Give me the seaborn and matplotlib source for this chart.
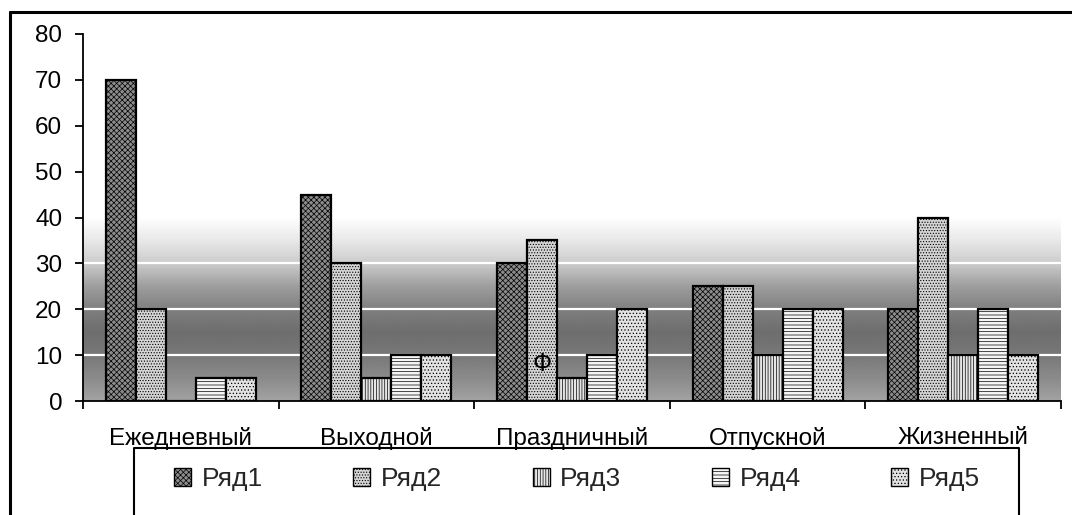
import numpy as np
import pandas as pd
import matplotlib
matplotlib.use("Agg")
import matplotlib.pyplot as plt
from matplotlib.patches import Patch
from matplotlib.lines import Line2D
import seaborn as sns

categories = ["Ежедневный", "Выходной", "Праздничный", "Отпускной", "Жизненный"]
series_names = ["Ряд1", "Ряд2", "Ряд3", "Ряд4", "Ряд5"]
ryad1 = [70, 45, 30, 25, 20]
ryad2 = [20, 30, 35, 25, 40]
ryad3 = [0, 5, 5, 10, 10]
ryad4 = [5, 10, 10, 20, 20]
ryad5 = [5, 10, 20, 20, 10]
y_ticks = [0, 10, 20, 30, 40, 50, 60, 70, 80]

sns.set_theme(style="white")
plt.rcParams["font.family"] = ["Liberation Sans", "DejaVu Sans"]
plt.rcParams["hatch.linewidth"] = 0.5

rows = []
for name, vals in zip(series_names, [ryad1, ryad2, ryad3, ryad4, ryad5]):
    for c, v in zip(categories, vals):
        rows.append({"cat": c, "series": name, "val": v})
df = pd.DataFrame(rows)

fig = plt.figure(figsize=(10.72, 5.15), dpi=100)
W, H = 1072, 515
ax = fig.add_axes([83 / W, 1 - 401 / H, (1061 - 83) / W, (401 - 34) / H])

# gradient background
stops_v = [0, 4, 10, 15, 20, 25, 30, 35, 40, 80]
stops_g = [0.64, 0.56, 0.47, 0.43, 0.50, 0.62, 0.80, 0.91, 1.0, 1.0]
yy = np.linspace(0, 80, 400)
gray = np.interp(yy, stops_v, stops_g)
img = np.repeat(gray[:, None], 2, axis=1)
ax.imshow(img, extent=[-0.5, 4.5, 0, 80], origin="lower", aspect="auto",
          cmap="gray", vmin=0, vmax=1, zorder=0, interpolation="bilinear")
for v in y_ticks[1:]:
    ax.axhline(v, color="white", lw=1.6, zorder=1)

width = 0.767
sns.barplot(data=df, x="cat", y="val", hue="series", order=categories,
            hue_order=series_names, width=width, gap=0, legend=False,
            ax=ax, errorbar=None)

faces = ["#8c8c8c", "#d4d4d4", "#e6e6e6", "#f6f6f6", "#e2e2e2"]
hatches = ["xxxxxx", "......", "||||||", "-----", "....."]
for cont, fc, h in zip(ax.containers, faces, hatches):
    for p in cont.patches:
        p.set_facecolor(fc)
        p.set_hatch(h)
        p.set_edgecolor("black")
        p.set_linewidth(1.6)
        p.set_zorder(2)

ax.set_xlim(-0.5, 4.5)
ax.set_ylim(0, 80)
ax.set_yticks(y_ticks)
ax.set_xticks(range(len(categories)))
ax.set_xticklabels(categories)
ax.set_xticks(np.arange(-0.5, 4.6, 1.0), minor=True)
ax.tick_params(axis="x", which="major", length=0, pad=19, labelsize=17.5, labelcolor="black")
ax.tick_params(axis="x", which="minor", length=6, width=1.3, direction="out", bottom=True, color="black")
ax.tick_params(axis="y", which="major", length=6, width=1.3, direction="out", left=True, pad=9,
               labelsize=17.5, color="black", labelcolor="black")
ax.set_xlabel("")
ax.set_ylabel("")
for s in ["top", "right"]:
    ax.spines[s].set_visible(False)
for s in ["left", "bottom"]:
    ax.spines[s].set_color("black")
    ax.spines[s].set_linewidth(1.3)
    ax.spines[s].set_zorder(3)

# annotation inside bar
ax.text(2 - width / 5, 8, "Ф", ha="center", va="center", fontsize=18, color="black", zorder=4)

# outer frame (left and top edges)
fig.add_artist(Line2D([10 / W, 10 / W], [0, 1 - 12 / H], color="black", lw=2.2))
fig.add_artist(Line2D([10 / W, 1], [1 - 12 / H, 1 - 12 / H], color="black", lw=2.2))
# legend frame
lx0, lx1, ly = 134 / W, 1019 / W, 1 - 448 / H
fig.add_artist(Line2D([lx0, lx0, lx1, lx1], [0, ly, ly, 0], color="black", lw=1.5))

handles = [Patch(facecolor=fc, edgecolor="black", hatch=h, linewidth=1.0)
           for fc, h in zip(faces, hatches)]
fig.legend(handles, series_names, loc="center", bbox_to_anchor=(577 / W, 1 - 479 / H),
           ncol=5, frameon=False, fontsize=19, handlelength=0.65, handleheight=0.65,
           handletextpad=0.4, columnspacing=3.43)

fig.savefig("out.png", dpi=100)
